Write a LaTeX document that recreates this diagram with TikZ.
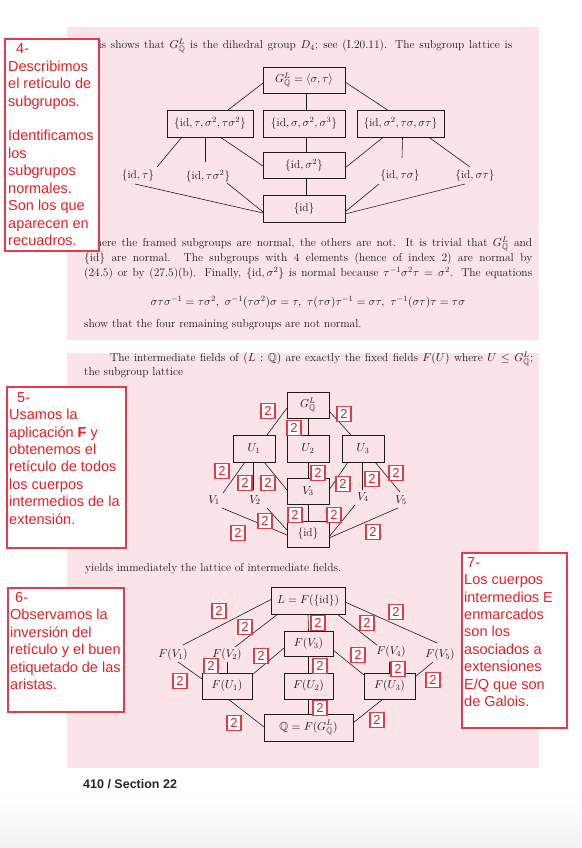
\RequirePackage{fix-cm}
\documentclass[tikz,border=0pt]{standalone}
\usepackage{amsmath,amssymb}
\usepackage{fontspec}
\newfontfamily\arial{Liberation Sans}
\usetikzlibrary{calc}
\definecolor{pinkbg}{RGB}{251,228,232}
\definecolor{annred}{RGB}{238,28,36}
\definecolor{boxred}{RGB}{228,58,74}
\definecolor{ink}{RGB}{30,26,26}
\newcommand\diagf{\fontsize{11.5}{13}\selectfont}
\newcommand\bodyf{\fontsize{11.5}{13.5}\selectfont}
\newcommand\QQ{\mathbb{Q}}
\newcommand\GL{G^{L}_{\QQ}}
\newcommand\idd{\mathrm{id}}
\begin{document}
\begin{tikzpicture}[x=1pt,y=-1pt,
  box/.style={draw=ink,line width=0.7pt,inner sep=0pt,font=\diagf,text=ink},
  lbl/.style={inner sep=1pt,font=\diagf,text=ink},
  body/.style={inner sep=0pt,font=\bodyf,text=ink},
  edge/.style={draw=ink,line width=0.6pt},
  two/.style={draw=boxred,line width=1.1pt,fill=white,text=annred,font={\arial\fontsize{13}{13}\selectfont},minimum width=14pt,minimum height=15pt,inner sep=0pt},
  ann/.style={draw=boxred,line width=1.3pt,fill=white},
  anntext/.style={text=annred,font={\arial\fontsize{14.5}{17.45}\selectfont},align=left,anchor=north west,inner sep=0pt}]
\useasboundingbox (0,0) rectangle (581,848);
\fill[white] (0,0) rectangle (581,848);
\shade[top color=white,bottom color=black!5] (0,795) rectangle (581,848);
\fill[pinkbg] (67,27) rectangle (539,340);
\fill[pinkbg] (67,353) rectangle (539,768);

% ---------- body text, panel 1
\node[body,anchor=west] (p1) at (84,46) {\makebox[428pt][s]{This shows that $\GL$ is the dihedral group $D_4$; see (I.20.11). The subgroup lattice is}};
\node[body,anchor=west] (p2) at (84,244) {\makebox[448pt][s]{Where the framed subgroups are normal, the others are not. It is trivial that $\GL$ and}};
\node[body,anchor=west] (p3) at (84,259) {\makebox[448pt][s]{$\{\idd\}$ are normal. The subgroups with 4 elements (hence of index 2) are normal by}};
\node[body,anchor=west] (p4) at (84,273) {\makebox[448pt][s]{(24.5) or by (27.5)(b). Finally, $\{\idd,\sigma^2\}$ is normal because $\tau^{-1}\sigma^2\tau=\sigma^2$. The equations}};
\node[body] (eq) at (308,302) {$\sigma\tau\sigma^{-1}=\tau\sigma^2,\ \sigma^{-1}(\tau\sigma^2)\sigma=\tau,\ \tau(\tau\sigma)\tau^{-1}=\sigma\tau,\ \tau^{-1}(\sigma\tau)\tau=\tau\sigma$};
\node[body,anchor=west] (p5) at (84,325) {show that the four remaining subgroups are not normal.};

% ---------- body text, panel 2
\node[body,anchor=west] (q1) at (110,359) {\makebox[423pt][s]{The intermediate fields of $(L:\QQ)$ are exactly the fixed fields $F(U)$ where $U\le\GL$;}};
\node[body,anchor=west] (q2) at (84,373) {the subgroup lattice};
\node[body,anchor=west] (q3) at (85,569) {yields immediately the lattice of intermediate fields.};

% ---------- top lattice
\node[box,minimum width=82pt,minimum height=26pt] (G) at (304,80) {$\GL=\langle\sigma,\tau\rangle$};
\node[box,minimum width=86pt,minimum height=27pt] (A) at (210,123.5) {$\{\idd,\tau,\sigma^2,\tau\sigma^2\}$};
\node[box,minimum width=82pt,minimum height=27pt] (B) at (304,123.5) {$\{\idd,\sigma,\sigma^2,\sigma^3\}$};
\node[box,minimum width=87pt,minimum height=27pt] (C) at (400.5,123.5) {$\{\idd,\sigma^2,\tau\sigma,\sigma\tau\}$};
\node[box,minimum width=82pt,minimum height=26pt] (D) at (304,165) {$\{\idd,\sigma^2\}$};
\node[box,minimum width=82pt,minimum height=27pt] (E) at (304,208.5) {$\{\idd\}$};
\node[lbl] (t1) at (138,176) {$\{\idd,\tau\}$};
\node[lbl] (t2) at (208,176) {$\{\idd,\tau\sigma^2\}$};
\node[lbl] (t3) at (400,176) {$\{\idd,\tau\sigma\}$};
\node[lbl] (t4) at (475,176) {$\{\idd,\sigma\tau\}$};
\draw[edge] ($(G)+(-41,3)$) -- ($(A)+(18,-13.5)$);
\draw[edge] ($(G)+(2,13)$) -- ($(B)+(2,-13.5)$);
\draw[edge] ($(G)+(41,2)$) -- ($(C)+(-13,-13.5)$);
\draw[edge] ($(B)+(2,13.5)$) -- ($(D)+(2,-13)$);
\draw[edge] ($(A)+(-28,13.5)$) -- ($(t1)+(19,-9)$);
\draw[edge] ($(A)+(-5,13.5)$) -- ($(t2)+(-3,-14)$);
\draw[edge] ($(A)+(10,13.5)$) -- ($(D)+(-41,1)$);
\draw[edge] ($(C)+(-17,13.5)$) -- ($(D)+(41,3)$);
\draw[edge] ($(C)+(2,13.5)$) -- ($(t3)+(2,-18)$);
\draw[edge] ($(C)+(28,13.5)$) -- ($(t4)+(-5,-9)$);
\draw[edge] ($(D)+(2,13)$) -- ($(E)+(2,-13.5)$);
\draw[edge] ($(t1)+(-3,8)$) -- ($(E)+(-41,4.5)$);
\draw[edge] ($(t2)+(19,7)$) -- ($(E)+(-41,3.5)$);
\draw[edge] ($(t3)+(-21,8)$) -- ($(E)+(41,3.5)$);
\draw[edge] ($(t4)+(-10,8)$) -- ($(E)+(41,5.5)$);

% ---------- middle lattice
\node[box,minimum width=42pt,minimum height=26pt] (mG) at (308,405) {$\GL$};
\node[box,minimum width=42pt,minimum height=27pt] (U1) at (254,448.5) {$U_1$};
\node[box,minimum width=42pt,minimum height=27pt] (U2) at (308,448.5) {$U_2$};
\node[box,minimum width=42pt,minimum height=27pt] (U3) at (363,448.5) {$U_3$};
\node[box,minimum width=42pt,minimum height=26pt] (V3) at (308,491) {$V_3$};
\node[box,minimum width=42pt,minimum height=26pt] (mid) at (308,534) {$\{\idd\}$};
\node[lbl] (v1) at (214,500) {$V_1$};
\node[lbl] (v2) at (255,500) {$V_2$};
\node[lbl] (v4) at (363,497) {$V_4$};
\node[lbl] (v5) at (401,500) {$V_5$};
\draw[edge] ($(mG)+(-21,3)$) -- ($(U1)+(13,-13.5)$);
\draw[edge] ($(mG)+(0,13)$) -- ($(U2)+(0,-13.5)$);
\draw[edge] ($(mG)+(21,6)$) -- ($(U3)+(-12,-13.5)$);
\draw[edge] ($(U1)+(-9,13.5)$) -- ($(v1)+(9,-7)$);
\draw[edge] ($(U1)+(-1,13.5)$) -- ($(v2)+(-2,-10)$);
\draw[edge] ($(U1)+(10,13.5)$) -- ($(V3)+(-21,-1)$);
\draw[edge] ($(U2)+(0,13.5)$) -- ($(V3)+(0,-13)$);
\draw[edge] ($(U3)+(-15,13.5)$) -- ($(V3)+(21,-1)$);
\draw[edge] ($(U3)+(-1,13.5)$) -- ($(v4)+(-1,-7)$);
\draw[edge] ($(U3)+(12,13.5)$) -- ($(v5)+(-1,-8)$);
\draw[edge] ($(V3)+(0,13)$) -- ($(mid)+(0,-13)$);
\draw[edge] ($(v1)+(8,8)$) -- ($(mid)+(-21,1)$);
\draw[edge] ($(v2)+(12,8)$) -- ($(mid)+(-21,-4)$);
\draw[edge] ($(v4)+(-8,8)$) -- ($(mid)+(21,3)$);
\draw[edge] ($(v5)+(-3,8)$) -- ($(mid)+(21,4)$);

% ---------- bottom lattice
\node[box,minimum width=74pt,minimum height=27pt] (L) at (308,600.5) {$L=F(\{\idd\})$};
\node[box,minimum width=49pt,minimum height=25pt] (FV3) at (308.5,643.5) {$F(V_3)$};
\node[box,minimum width=50pt,minimum height=26pt] (FU1) at (227,686) {$F(U_1)$};
\node[box,minimum width=49pt,minimum height=26pt] (FU2) at (308.5,686) {$F(U_2)$};
\node[box,minimum width=51pt,minimum height=26pt] (FU3) at (389.5,686) {$F(U_3)$};
\node[box,minimum width=89pt,minimum height=27pt] (Q) at (308.5,727.5) {$\QQ=F(\GL)$};
\node[lbl] (fv1) at (173,655) {$F(V_1)$};
\node[lbl] (fv2) at (227,655) {$F(V_2)$};
\node[lbl] (fv4) at (391,652) {$F(V_4)$};
\node[lbl] (fv5) at (440,655) {$F(V_5)$};
\draw[edge] ($(L)+(-37,-1)$) -- ($(fv1)+(10,-10)$);
\draw[edge] ($(L)+(-30,13.5)$) -- ($(fv2)+(8,-8)$);
\draw[edge] ($(L)+(0,13.5)$) -- ($(FV3)+(0,-12.5)$);
\draw[edge] ($(L)+(29,13.5)$) -- ($(fv4)+(-14,-7)$);
\draw[edge] ($(L)+(37,1.5)$) -- ($(fv5)+(-3,-12)$);
\draw[edge] ($(fv1)+(5,7)$) -- ($(FU1)+(-25,-7)$);
\draw[edge] ($(fv2)+(0,7)$) -- ($(FU1)+(0,-13)$);
\draw[edge] ($(FV3)+(-24.5,4.5)$) -- ($(FU1)+(25,-11)$);
\draw[edge] ($(FV3)+(0,12.5)$) -- ($(FU2)+(0,-13)$);
\draw[edge] ($(FV3)+(24.5,6.5)$) -- ($(FU3)+(-25.5,-11)$);
\draw[edge] ($(fv4)+(-2,10)$) -- ($(FU3)+(-0.5,-13)$);
\draw[edge] ($(fv5)+(-7,7)$) -- ($(FU3)+(25.5,-9)$);
\draw[edge] ($(FU1)+(1,13)$) -- ($(Q)+(-44.5,-0.5)$);
\draw[edge] ($(FU2)+(0,13)$) -- ($(Q)+(0,-13.5)$);
\draw[edge] ($(FU3)+(-6.5,13)$) -- ($(Q)+(44.5,-4.5)$);

% ---------- red "2" labels
\foreach \px/\py [count=\i] in {268/411,294/428,344/414,222/471,245/483,268/483,318/473,343/484,372/479,396/473,265/521,238/533,295/515,334/515,373/532}
  \node[two] (m\i) at (\px,\py) {2};
\foreach \px/\py [count=\i] in {219/611,245/627,318/623,367/623,396/612,261/656,211/666,320/666,358/655,398/669,433/680,180/681,234/723,320/708,377/720}
  \node[two] (b\i) at (\px,\py) {2};

% ---------- annotation boxes
\draw[ann] (5,39) rectangle (99,251);
\node[anntext] (n4) at (8,43.5) {\hspace*{8pt}4-\\Describimos\\el retículo de\\subgrupos.\\[17.45pt]Identificamos\\los\\subgrupos\\normales.\\Son los que\\aparecen en\\recuadros.};
\draw[ann] (7,387) rectangle (126,548);
\node[anntext] (n5) at (9,392) {\hspace*{8pt}5-\\Usamos la\\aplicación \textbf{F} y\\obtenemos el\\retículo de todos\\los cuerpos\\intermedios de la\\extensión.};
\draw[ann] (8,588) rectangle (124,712);
\node[anntext] (n6) at (10,592) {\hspace*{5pt}6-\\Observamos la\\inversión del\\retículo y el buen\\etiquetado de las\\aristas.};
\draw[ann] (462,553) rectangle (567,728);
\node[anntext] (n7) at (464,557) {\hspace*{3pt}7-\\Los cuerpos\\intermedios E\\enmarcados\\son los\\asociados a\\extensiones\\E/Q que son\\de Galois.};

% ---------- footer
\node[anchor=west,inner sep=0pt,text=black!85,font={\arial\bfseries\fontsize{12.5}{14}\selectfont}] (foot) at (83,784) {410 / Section 22};
\end{tikzpicture}
\end{document}
